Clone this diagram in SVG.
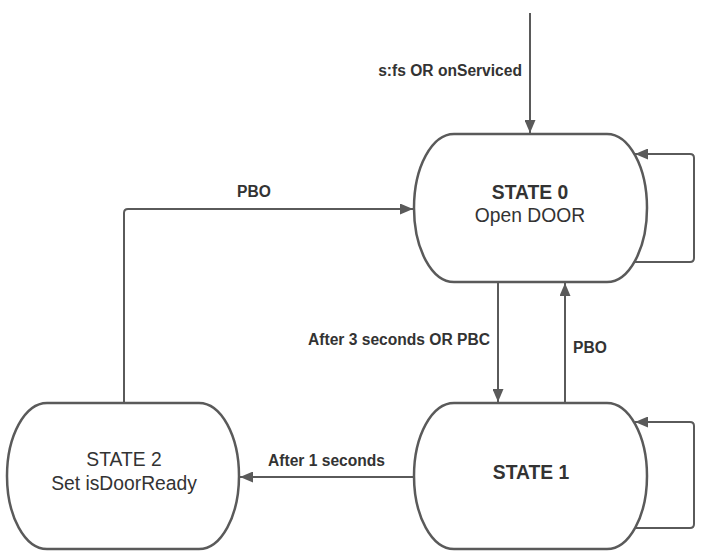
<svg xmlns="http://www.w3.org/2000/svg" width="709" height="558" viewBox="0 0 709 558">
<style>
.node{fill:#fff;stroke:#5a5a5a;stroke-width:2.5}
.edge{fill:none;stroke:#5a5a5a;stroke-width:2;stroke-linejoin:round}
.nt{font-family:"Liberation Sans",Arial,sans-serif;font-size:19.3px;fill:#333;text-anchor:middle}
.b{font-weight:bold}
.lbl{font-family:"Liberation Sans",Arial,sans-serif;font-size:15.6px;font-weight:bold;fill:#333}
</style>
<defs>
<marker id="arr" markerWidth="13" markerHeight="11" refX="13" refY="5.5" orient="auto" markerUnits="userSpaceOnUse">
<path d="M0,0 L13,5.5 L0,11 Z" fill="#5a5a5a"/>
</marker>
</defs>
<rect width="709" height="558" fill="#fff"/>
<g id="connectors">
<path class="edge" d="M530,13 V133" marker-end="url(#arr)"/>
<path class="edge" d="M633,262 H690 Q694,262 694,258 V158 Q694,154 690,154 H635" marker-end="url(#arr)"/>
<path class="edge" d="M498,283 V402" marker-end="url(#arr)"/>
<path class="edge" d="M565,403 V283" marker-end="url(#arr)"/>
<path class="edge" d="M634,528 H690 Q694,528 694,524 V426 Q694,422 690,422 H635" marker-end="url(#arr)"/>
<path class="edge" d="M414,477 H240" marker-end="url(#arr)"/>
<path class="edge" d="M124,403 V213 Q124,209 128,209 H413" marker-end="url(#arr)"/>
<text class="lbl" x="522" y="76" text-anchor="end">s:fs OR onServiced</text>
<text class="lbl" x="490" y="345" text-anchor="end">After 3 seconds OR PBC</text>
<text class="lbl" x="573" y="353">PBO</text>
<text class="lbl" x="268" y="466">After 1 seconds</text>
<text class="lbl" x="254" y="197" text-anchor="middle">PBO</text>
</g>
<g id="state0">
<rect class="node" x="414" y="134" width="233" height="148" rx="40" ry="74"/>
<text class="nt b" x="530" y="199">STATE 0</text>
<text class="nt" x="530" y="222">Open DOOR</text>
</g>
<g id="state1">
<rect class="node" x="414" y="403" width="233" height="146" rx="40" ry="73"/>
<text class="nt b" x="531" y="479">STATE 1</text>
</g>
<g id="state2">
<rect class="node" x="7" y="403" width="232" height="146" rx="40" ry="73"/>
<text class="nt" x="124" y="466">STATE 2</text>
<text class="nt" x="124" y="490">Set isDoorReady</text>
</g>
</svg>
